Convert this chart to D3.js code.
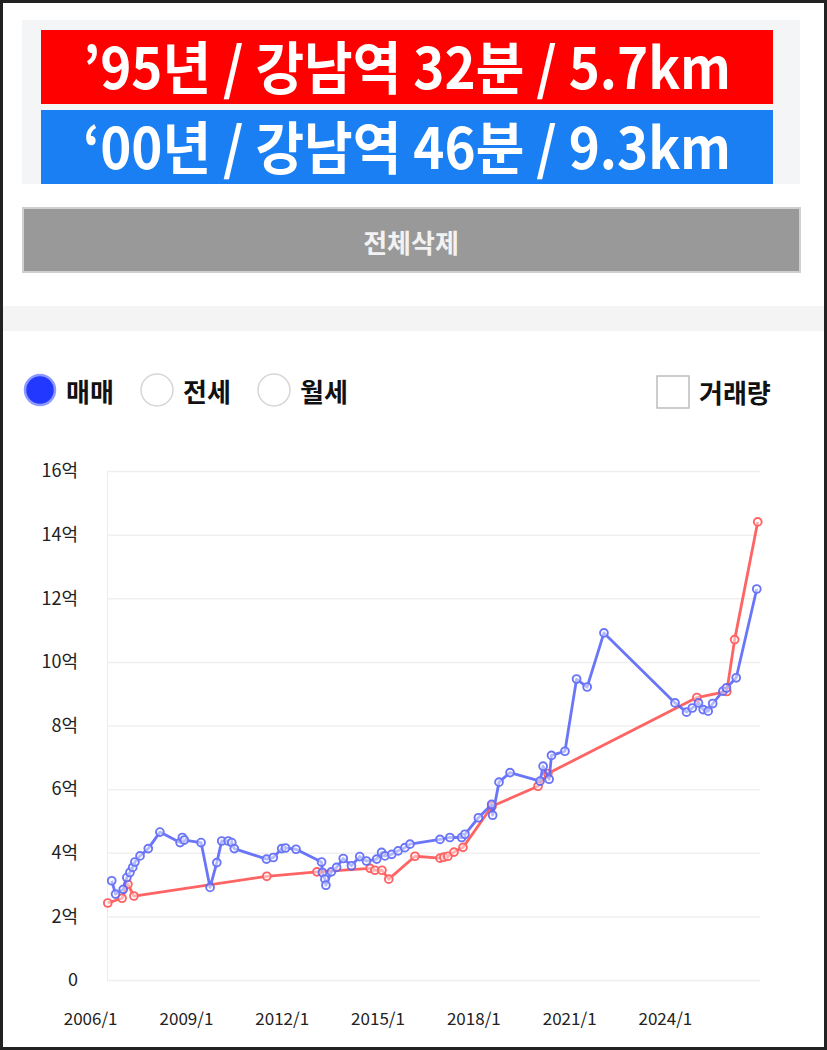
<!DOCTYPE html>
<html>
<head>
<meta charset="utf-8">
<script src="https://cdn.jsdelivr.net/npm/d3@7"></script>
<style>
    body { margin: 0; background: #fff; }
    svg { display: block; }
</style>
</head>
<body>
<div id="chart"></div>
<script>
// header / controls
const headerLines = ['’95년 / 강남역 32분 / 5.7km', '‘00년 / 강남역 46분 / 9.3km'];
const headerColors = ['#ff0000', '#1a7ff2'];
const dealTypes = ['매매', '전세', '월세'];

// axes
const yTicks = [0, 2, 4, 6, 8, 10, 12, 14, 16];
const xTickYears = [2006, 2009, 2012, 2015, 2018, 2021, 2024];

// '95년 단지 (red)
const redDates = ['2006-07-22', '2007-01-01', '2007-03-09', '2007-05-17', '2011-07-15', '2013-02-07',
    '2014-10-08', '2014-12-02', '2015-02-21', '2015-05-10', '2016-03-05', '2016-12-16', '2017-01-29',
    '2017-03-16', '2017-05-25', '2017-09-05', '2018-08-03', '2020-01-11', '2020-05-03', '2025-01-01',
    '2025-12-09', '2026-03-09', '2026-11-28'];
const redValues = [2.42, 2.57, 3.01, 2.64, 3.26, 3.40,
    3.51, 3.45, 3.45, 3.17, 3.89, 3.83, 3.86,
    3.89, 4.02, 4.17, 5.46, 6.09, 6.49, 8.88,
    9.07, 10.70, 14.40];

// '00년 단지 (blue)
const blueDates = ['2006-09-05', '2006-10-19', '2007-01-15', '2007-02-25', '2007-04-01', '2007-05-03',
    '2007-05-28', '2007-07-26', '2007-10-28', '2008-03-09', '2008-10-26', '2008-11-21', '2008-12-13',
    '2009-06-23', '2009-10-04', '2009-12-20', '2010-02-14', '2010-04-29', '2010-06-09', '2010-07-08',
    '2011-07-11', '2011-09-27', '2012-01-01', '2012-02-14', '2012-06-13', '2013-04-01', '2013-04-11',
    '2013-05-10', '2013-05-21', '2013-07-22', '2013-09-20', '2013-12-05', '2014-03-09', '2014-06-12',
    '2014-08-28', '2014-12-23', '2015-02-17', '2015-03-28', '2015-06-13', '2015-08-25', '2015-11-10',
    '2016-01-08', '2016-12-16', '2017-04-08', '2017-08-21', '2017-09-27', '2018-02-28', '2018-07-29',
    '2018-08-10', '2018-10-22', '2019-02-25', '2020-02-03', '2020-03-09', '2020-05-17', '2020-06-13',
    '2020-11-14', '2021-03-27', '2021-07-26', '2022-02-03', '2024-04-26', '2024-09-05', '2024-11-10',
    '2025-01-19', '2025-03-14', '2025-05-10', '2025-07-01', '2025-10-26', '2025-12-05', '2026-03-27',
    '2026-11-17'];
const blueValues = [3.12, 2.70, 2.85, 3.22, 3.38, 3.54,
    3.71, 3.90, 4.13, 4.65, 4.32, 4.48, 4.40,
    4.32, 2.91, 3.69, 4.37, 4.37, 4.32, 4.13,
    3.80, 3.85, 4.13, 4.15, 4.11, 3.71, 3.38,
    3.17, 2.98, 3.40, 3.54, 3.82, 3.59, 3.88,
    3.74, 3.80, 4.01, 3.90, 3.95, 4.06, 4.16,
    4.27, 4.42, 4.48, 4.48, 4.58, 5.10, 5.52,
    5.18, 6.22, 6.52, 6.25, 6.72, 6.31, 7.06,
    7.19, 9.46, 9.21, 10.91, 8.71, 8.42, 8.55,
    8.71, 8.50, 8.45, 8.69, 9.08, 9.18, 9.50,
    12.29];

const W = 827, H = 1050;
const KR = '"Noto Sans CJK KR", "Noto Sans", sans-serif';
const parseDate = d3.timeParse('%Y-%m-%d');

const svg = d3.select('#chart')
    .append('svg')
    .attr('width', W)
    .attr('height', H)
    .style('font-family', KR);

// header panel
svg.append('rect')
    .attr('x', 22).attr('y', 20)
    .attr('width', 778).attr('height', 164)
    .attr('fill', '#f4f5f7');

const header = svg.selectAll('g.header')
    .data(headerLines)
    .enter()
        .append('g')
        .attr('class', 'header')
        .attr('transform', (d, i) => `translate(41, ${30 + i * 80})`);

header.append('rect')
    .attr('width', 732)
    .attr('height', 74)
    .attr('fill', (d, i) => headerColors[i]);

header.append('text')
    .attr('x', 366)
    .attr('y', 59)
    .attr('text-anchor', 'middle')
    .attr('fill', '#fff')
    .attr('font-size', 57)
    .attr('font-weight', 'bold')
    .attr('textLength', 648)
    .attr('lengthAdjust', 'spacingAndGlyphs')
    .text(d => d);

// delete-all button
svg.append('rect')
    .attr('x', 23).attr('y', 208)
    .attr('width', 777).attr('height', 64)
    .attr('fill', '#999')
    .attr('stroke', '#d0d0d0')
    .attr('stroke-width', 2);

svg.append('text')
    .attr('x', 411).attr('y', 241)
    .attr('text-anchor', 'middle')
    .attr('dominant-baseline', 'central')
    .attr('fill', '#f2f2f2')
    .attr('font-size', 26)
    .attr('font-weight', 'bold')
    .text('전체삭제');

// separator band
svg.append('rect')
    .attr('x', 2).attr('y', 306)
    .attr('width', 823).attr('height', 25)
    .attr('fill', '#f4f4f4');

// deal type radios
const radio = svg.selectAll('g.radio')
    .data(dealTypes)
    .enter()
        .append('g')
        .attr('class', 'radio')
        .attr('transform', (d, i) => `translate(${40 + i * 117}, 390)`);

radio.append('circle')
    .attr('r', d => d === '매매' ? 15 : 16)
    .attr('fill', d => d === '매매' ? '#2238ff' : '#fff')
    .attr('stroke', d => d === '매매' ? '#8e99ff' : '#d6d6d6')
    .attr('stroke-width', d => d === '매매' ? 2.5 : 1.5);

radio.append('text')
    .attr('x', 26)
    .attr('dominant-baseline', 'central')
    .attr('font-size', 26)
    .attr('font-weight', 'bold')
    .attr('fill', '#111')
    .text(d => d);

// volume checkbox
svg.append('rect')
    .attr('x', 657).attr('y', 376)
    .attr('width', 32).attr('height', 32)
    .attr('fill', '#fff')
    .attr('stroke', '#bdbdbd')
    .attr('stroke-width', 1.5);

svg.append('text')
    .attr('x', 699).attr('y', 391)
    .attr('dominant-baseline', 'central')
    .attr('font-size', 26)
    .attr('font-weight', 'bold')
    .attr('fill', '#111')
    .text('거래량');

// chart
const x = d3.scaleTime()
    .domain([new Date(2006, 6, 13), new Date(2026, 11, 24)])
    .range([107, 760]);

const y = d3.scaleLinear()
    .domain([0, 16])
    .range([980, 471]);

const yAxis = svg.append('g')
    .attr('transform', `translate(${x.range()[0]}, 0)`)
    .call(d3.axisLeft(y)
        .tickValues(yTicks)
        .tickSizeInner(-(x.range()[1] - x.range()[0]))
        .tickSizeOuter(0)
        .tickPadding(29)
        .tickFormat(d => d ? d + '억' : '0'));
yAxis.select('.domain').attr('stroke', '#ececec');
yAxis.selectAll('.tick line').attr('stroke', '#efefef').attr('stroke-width', 1.5);
yAxis.selectAll('.tick text')
    .attr('font-size', 18)
    .attr('font-family', KR)
    .attr('fill', '#222');

const xAxis = svg.append('g')
    .attr('transform', `translate(0, ${y(0)})`)
    .call(d3.axisBottom(x)
        .tickValues(xTickYears.map(yr => new Date(yr, 0, 1)))
        .tickSize(0)
        .tickPadding(33)
        .tickFormat(d3.timeFormat('%Y/%-m')));
xAxis.select('.domain').remove();
xAxis.selectAll('.tick text')
    .attr('font-size', 17)
    .attr('font-family', KR)
    .attr('fill', '#222');

const series = [
    { dates: redDates, values: redValues, color: '#ff4f4f' },
    { dates: blueDates, values: blueValues, color: '#5663f7' }
];

const line = d3.line()
    .x(d => x(d.date))
    .y(d => y(d.value));

series.forEach(s => {
    const pts = s.dates.map((d, i) => ({ date: parseDate(d), value: s.values[i] }));
    const g = svg.append('g').attr('opacity', 0.88);

    g.append('path')
        .datum(pts)
        .attr('d', line)
        .attr('fill', 'none')
        .attr('stroke', s.color)
        .attr('stroke-width', 2.8)
        .attr('stroke-linejoin', 'round');

    g.selectAll('circle')
        .data(pts)
        .enter()
            .append('circle')
            .attr('cx', d => x(d.date))
            .attr('cy', d => y(d.value))
            .attr('r', 3.9)
            .attr('fill', '#fff')
            .attr('fill-opacity', 0.5)
            .attr('stroke', s.color)
            .attr('stroke-width', 1.9);
});

// outer frame
svg.append('rect')
    .attr('x', 1.5).attr('y', 1.5)
    .attr('width', W - 3).attr('height', H - 3)
    .attr('fill', 'none')
    .attr('stroke', '#222')
    .attr('stroke-width', 3);
</script>
</body>
</html>
